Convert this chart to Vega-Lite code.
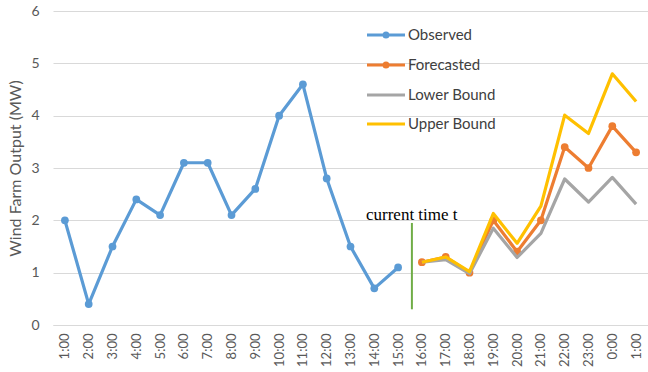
{
  "$schema": "https://vega.github.io/schema/vega-lite/v6.json",
  "width": 595,
  "height": 314,
  "autosize": {"type": "none"},
  "padding": {"left": 53, "top": 11, "right": 0, "bottom": 47},
  "config": {
    "view": {"stroke": null},
    "font": "Lato",
    "axis": {"labelFont": "Lato", "titleFont": "Lato"}
  },
  "datasets": {
    "output": [
      {"slot": 1, "series": "Observed", "mw": 2.0},
      {"slot": 2, "series": "Observed", "mw": 0.4},
      {"slot": 3, "series": "Observed", "mw": 1.5},
      {"slot": 4, "series": "Observed", "mw": 2.4},
      {"slot": 5, "series": "Observed", "mw": 2.1},
      {"slot": 6, "series": "Observed", "mw": 3.1},
      {"slot": 7, "series": "Observed", "mw": 3.1},
      {"slot": 8, "series": "Observed", "mw": 2.1},
      {"slot": 9, "series": "Observed", "mw": 2.6},
      {"slot": 10, "series": "Observed", "mw": 4.0},
      {"slot": 11, "series": "Observed", "mw": 4.6},
      {"slot": 12, "series": "Observed", "mw": 2.8},
      {"slot": 13, "series": "Observed", "mw": 1.5},
      {"slot": 14, "series": "Observed", "mw": 0.7},
      {"slot": 15, "series": "Observed", "mw": 1.1},
      {"slot": 16, "series": "Forecasted", "mw": 1.2},
      {"slot": 17, "series": "Forecasted", "mw": 1.3},
      {"slot": 18, "series": "Forecasted", "mw": 1.0},
      {"slot": 19, "series": "Forecasted", "mw": 2.0},
      {"slot": 20, "series": "Forecasted", "mw": 1.4},
      {"slot": 21, "series": "Forecasted", "mw": 2.0},
      {"slot": 22, "series": "Forecasted", "mw": 3.4},
      {"slot": 23, "series": "Forecasted", "mw": 3.0},
      {"slot": 24, "series": "Forecasted", "mw": 3.8},
      {"slot": 25, "series": "Forecasted", "mw": 3.3},
      {"slot": 16, "series": "Lower Bound", "mw": 1.2},
      {"slot": 17, "series": "Lower Bound", "mw": 1.25},
      {"slot": 18, "series": "Lower Bound", "mw": 0.98},
      {"slot": 19, "series": "Lower Bound", "mw": 1.85},
      {"slot": 20, "series": "Lower Bound", "mw": 1.29},
      {"slot": 21, "series": "Lower Bound", "mw": 1.75},
      {"slot": 22, "series": "Lower Bound", "mw": 2.79},
      {"slot": 23, "series": "Lower Bound", "mw": 2.35},
      {"slot": 24, "series": "Lower Bound", "mw": 2.82},
      {"slot": 25, "series": "Lower Bound", "mw": 2.31},
      {"slot": 16, "series": "Upper Bound", "mw": 1.2},
      {"slot": 17, "series": "Upper Bound", "mw": 1.3},
      {"slot": 18, "series": "Upper Bound", "mw": 1.02},
      {"slot": 19, "series": "Upper Bound", "mw": 2.13},
      {"slot": 20, "series": "Upper Bound", "mw": 1.56},
      {"slot": 21, "series": "Upper Bound", "mw": 2.27},
      {"slot": 22, "series": "Upper Bound", "mw": 4.01},
      {"slot": 23, "series": "Upper Bound", "mw": 3.66},
      {"slot": 24, "series": "Upper Bound", "mw": 4.8},
      {"slot": 25, "series": "Upper Bound", "mw": 4.27}
    ],
    "now": [
      {"slot": 15.58, "lo": 0.3, "hi": 1.95, "labelSlot": 13.65, "labelMw": 2.0, "label": "current time t"}
    ]
  },
  "encoding": {
    "x": {
      "field": "slot",
      "type": "quantitative",
      "scale": {"domain": [0.5, 25.5], "nice": false, "zero": false},
      "axis": {
        "title": null,
        "values": [1, 2, 3, 4, 5, 6, 7, 8, 9, 10, 11, 12, 13, 14, 15, 16, 17, 18, 19, 20, 21, 22, 23, 24, 25],
        "labelExpr": "(datum.value % 24) + ':00'",
        "labelAngle": -90,
        "labelPadding": 8,
        "labelFontSize": 13,
        "labelColor": "#595959",
        "grid": false,
        "ticks": false,
        "domain": true,
        "domainColor": "#D9D9D9",
        "labelFlush": false,
        "labelOverlap": false
      }
    },
    "y": {
      "field": "mw",
      "type": "quantitative",
      "scale": {"domain": [0, 6], "nice": false},
      "axis": {
        "title": "Wind Farm Output (MW)",
        "values": [0, 1, 2, 3, 4, 5, 6],
        "grid": true,
        "gridColor": "#D9D9D9",
        "domain": false,
        "ticks": false,
        "labelPadding": 14,
        "labelFontSize": 14,
        "labelColor": "#595959",
        "titleFontSize": 16,
        "titleFontWeight": "normal",
        "titleColor": "#595959",
        "titlePadding": 7
      }
    }
  },
  "layer": [
    {
      "data": {"name": "output"},
      "transform": [{"filter": "datum.series == 'Observed' || datum.series == 'Forecasted'"}],
      "mark": {"type": "line", "strokeWidth": 3.2, "strokeJoin": "round"},
      "encoding": {
        "color": {
          "field": "series",
          "type": "nominal",
          "scale": {
            "domain": ["Observed", "Forecasted", "Lower Bound", "Upper Bound"],
            "range": ["#5B9BD5", "#ED7D31", "#A5A5A5", "#FFC000"]
          },
          "legend": {
            "title": null,
            "orient": "none",
            "legendX": 312,
            "legendY": 3,
            "padding": 0,
            "symbolSize": 1444,
            "symbolStrokeWidth": 3.2,
            "labelFontSize": 15,
            "labelColor": "#404040",
            "labelOffset": 1,
            "rowPadding": -1,
            "encode": {
              "symbols": {
                "update": {
                  "shape": {"signal": "(datum.value == 'Observed' || datum.value == 'Forecasted') ? 'M-1,0H1M-0.1,0a0.1,0.1 0 1,0 0.2,0a0.1,0.1 0 1,0 -0.2,0' : 'M-1,0H1'"}
                }
              }
            }
          }
        }
      }
    },
    {
      "data": {"name": "output"},
      "transform": [{"filter": "datum.series == 'Observed' || datum.series == 'Forecasted'"}],
      "mark": {"type": "point", "filled": true, "size": 60, "opacity": 1},
      "encoding": {
        "fill": {
          "field": "series",
          "type": "nominal",
          "scale": {"domain": ["Observed", "Forecasted"], "range": ["#5B9BD5", "#ED7D31"]},
          "legend": null
        }
      }
    },
    {
      "data": {"name": "output"},
      "transform": [{"filter": "datum.series == 'Lower Bound'"}],
      "mark": {"type": "line", "strokeWidth": 3.2, "strokeJoin": "round"},
      "encoding": {
        "color": {"field": "series", "type": "nominal"}
      }
    },
    {
      "data": {"name": "output"},
      "transform": [{"filter": "datum.series == 'Upper Bound'"}],
      "mark": {"type": "line", "strokeWidth": 3.2, "strokeJoin": "round"},
      "encoding": {
        "color": {"field": "series", "type": "nominal"}
      }
    },
    {
      "data": {"name": "now"},
      "mark": {"type": "rule", "color": "#70AD47", "strokeWidth": 2},
      "encoding": {
        "y": {"field": "lo", "type": "quantitative"},
        "y2": {"field": "hi"}
      }
    },
    {
      "data": {"name": "now"},
      "mark": {"type": "text", "font": "Liberation Serif", "fontSize": 17, "color": "#000000", "align": "left", "baseline": "alphabetic"},
      "encoding": {
        "x": {"field": "labelSlot", "type": "quantitative"},
        "y": {"field": "labelMw", "type": "quantitative"},
        "text": {"field": "label"}
      }
    }
  ]
}
